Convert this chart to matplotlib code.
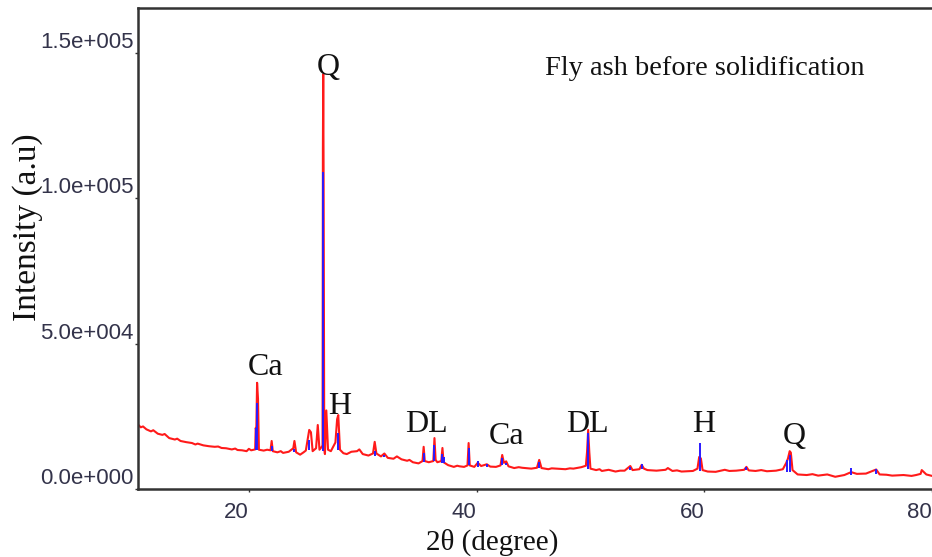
import matplotlib
matplotlib.use('Agg')
import matplotlib.pyplot as plt

trace = [
    (10.3, 22000), (10.5, 21200), (10.7, 21500), (11.0, 20500), (11.4, 19800), (11.6, 20200),
    (12.0, 19000), (12.4, 18600), (12.6, 18900), (13.0, 17500), (13.5, 17000), (13.7, 17300),
    (14.0, 16500), (14.5, 16100), (15.0, 15800), (15.3, 15300), (15.5, 15600), (16.0, 15000),
    (16.5, 14700), (17.0, 14500), (17.3, 14600), (17.6, 14100), (18.0, 14000), (18.5, 13600),
    (18.8, 13900), (19.0, 13400), (19.4, 13300), (19.8, 13000), (20.0, 13800), (20.2, 13300),
    (20.45, 13500), (20.55, 13600), (20.6, 21000), (20.65, 20000), (20.72, 36500), (20.8, 31000),
    (20.88, 13500), (21.3, 13200), (21.6, 13500), (21.9, 13300), (22.0, 16500), (22.1, 13000),
    (22.5, 12600), (22.8, 13000), (23.0, 12400), (23.5, 12800), (23.9, 14000), (24.0, 16500),
    (24.15, 12600), (24.5, 11800), (24.8, 12600), (25.0, 13200), (25.3, 20300), (25.45, 19500),
    (25.6, 13000), (25.9, 14000), (26.05, 22000), (26.2, 13500), (26.4, 14500), (26.47, 15000),
    (26.5, 117000), (26.53, 142600), (26.56, 110000), (26.62, 13500), (26.68, 12000),
    (26.8, 27000), (26.95, 13500), (27.2, 13000), (27.6, 16000), (27.75, 24000), (27.85, 25400),
    (28.0, 13500), (28.3, 12300), (28.6, 12000), (29.0, 12800), (29.5, 13000), (29.7, 13600),
    (30.0, 12000), (30.5, 11500), (30.9, 12200), (31.05, 16200), (31.2, 12200), (31.6, 11200),
    (31.9, 12200), (32.2, 10700), (32.7, 10400), (33.0, 11200), (33.4, 10200), (33.9, 9700),
    (34.1, 10000), (34.4, 9200), (34.9, 8800), (35.25, 9600), (35.35, 14500), (35.45, 9600),
    (35.8, 9200), (36.2, 9600), (36.3, 17500), (36.4, 10000), (36.55, 9200), (36.9, 9600),
    (37.0, 14100), (37.1, 9200), (37.5, 8200), (38.0, 7600), (38.3, 8000), (38.5, 7800),
    (38.9, 7600), (39.2, 8100), (39.3, 15800), (39.4, 8100), (39.8, 7600), (40.1, 9000),
    (40.4, 7900), (40.9, 8500), (41.2, 7700), (41.7, 7600), (42.1, 8100), (42.25, 11700),
    (42.4, 9000), (42.6, 9500), (42.8, 7800), (43.3, 7200), (43.7, 7500), (44.0, 7300),
    (44.8, 7000), (45.3, 7300), (45.5, 10000), (45.7, 7200), (46.3, 6800), (46.6, 7100),
    (47.0, 7000), (47.8, 6800), (48.2, 7100), (48.5, 7000), (49.2, 7500), (49.6, 8000),
    (49.7, 12700), (49.8, 20300), (49.9, 12700), (50.0, 7000), (50.5, 6500), (50.8, 6800),
    (51.0, 6200), (51.6, 6600), (52.2, 6000), (52.6, 6300), (53.0, 6300), (53.5, 7900),
    (53.7, 6500), (54.3, 6800), (54.5, 8300), (54.7, 7000), (55.0, 6500), (55.8, 6300),
    (56.6, 6600), (56.8, 7200), (57.2, 6200), (57.6, 6400), (58.0, 6000), (59.0, 6200),
    (59.4, 7000), (59.55, 11000), (59.7, 10500), (59.85, 6500), (60.3, 6000), (61.0, 5900),
    (61.8, 6600), (62.2, 6200), (62.8, 6300), (63.5, 6600), (63.7, 7600), (63.9, 6400),
    (64.5, 6200), (65.0, 6500), (65.5, 6100), (66.3, 6300), (66.9, 6800), (67.2, 9000),
    (67.35, 10500), (67.5, 13000), (67.6, 12500), (67.75, 6500), (68.2, 5000), (69.0, 4800),
    (69.5, 5100), (70.0, 4600), (70.8, 5000), (71.5, 4200), (72.3, 4800), (72.9, 5800),
    (73.4, 5200), (74.2, 5300), (75.1, 6700), (75.4, 5000), (76.0, 4900), (76.5, 4600),
    (77.5, 4800), (78.2, 4500), (78.6, 4800), (79.0, 5200), (79.1, 6500), (79.5, 5000),
    (80.0, 4500),
]
two_theta = [p[0] for p in trace]
intensity = [p[1] for p in trace]

# blue reference sticks
stick_pos = [20.6, 20.72, 22.0, 24.0, 25.3, 26.52, 27.85, 31.05, 31.9, 35.35, 36.3, 37.0, 37.1,
             39.3, 40.1, 40.9, 42.25, 42.6, 45.5, 49.78, 53.5, 54.5, 59.6, 63.7, 67.3, 67.5,
             72.9, 75.1]
stick_bottom = [13500, 13500, 13000, 12600, 13500, 13000, 13500, 11500, 11000, 9300, 9600, 9000, 9000,
                8100, 7600, 7600, 8100, 8100, 7200, 7000, 6500, 6800, 6200, 6400, 6000, 6000,
                4800, 5000]
stick_top = [21000, 29600, 14800, 13800, 17000, 109000, 19300, 13000, 11800, 12500, 15100, 12000, 11000,
             14100, 9500, 8500, 10500, 9000, 9200, 19200, 7500, 8500, 15800, 7500, 10000, 11700,
             7200, 6900]

# phase labels
label_text = ['Q', 'Ca', 'H', 'DL', 'Ca', 'DL', 'H', 'Q']
label_x = [26.93, 21.49, 27.98, 35.61, 42.63, 49.73, 59.99, 67.9]
label_y = [144700, 41900, 28500, 22300, 18200, 22300, 22300, 17900]

x_ticks = [20, 40, 60, 80]
y_ticks = [0, 50000, 100000, 150000]
y_tick_labels = ['0.0e+000', '5.0e+004', '1.0e+005', '1.5e+005']

fig = plt.figure(figsize=(9.32, 5.57), dpi=100)
ax = fig.add_axes([138 / 932, 68 / 557, (932 - 138) / 932, (489 - 8) / 557])

ax.plot(two_theta, intensity, color='#ff1a1a', lw=1.5, zorder=2)
ax.vlines(stick_pos, stick_bottom, stick_top, color='#2a1aff', lw=1.4, zorder=3)

for t, x, y in zip(label_text, label_x, label_y):
    ax.text(x, y, t, ha='center', va='center', fontsize=23,
            family='Liberation Serif', color='#111111')

ax.text(46.0, 144500, 'Fly ash before solidification', ha='left', va='center',
        fontsize=20.4, family='Liberation Serif', color='#111111')

ax.set_xlim(10.26, 80.0)
ax.set_ylim(0, 165300)
ax.set_xticks(x_ticks)
ax.set_xticklabels([str(v) for v in x_ticks], ha='right')
ax.set_yticks(y_ticks)
ax.set_yticklabels(y_tick_labels, va='bottom')
for lab in ax.get_xticklabels() + ax.get_yticklabels():
    lab.set_family('Liberation Sans')
    lab.set_fontsize(16)
    lab.set_color('#33334a')
ax.tick_params(axis='x', length=2, width=1, pad=7, colors='#333333', labelcolor='#33334a')
ax.tick_params(axis='y', length=2, width=1, pad=1, colors='#333333', labelcolor='#33334a')

for side in ['left', 'bottom', 'top']:
    ax.spines[side].set_linewidth(1.8)
    ax.spines[side].set_color('#333333')
ax.spines['right'].set_visible(False)

ax.set_xlabel('2θ (degree)', fontsize=21, family='Liberation Serif', color='#111111')
ax.xaxis.set_label_coords(0.446, -0.082)
ax.set_ylabel('Intensity (a.u)', fontsize=24, family='Liberation Serif', color='#111111')
ax.yaxis.set_label_coords(-0.12, 0.545)

fig.savefig('out.png', dpi=100)
